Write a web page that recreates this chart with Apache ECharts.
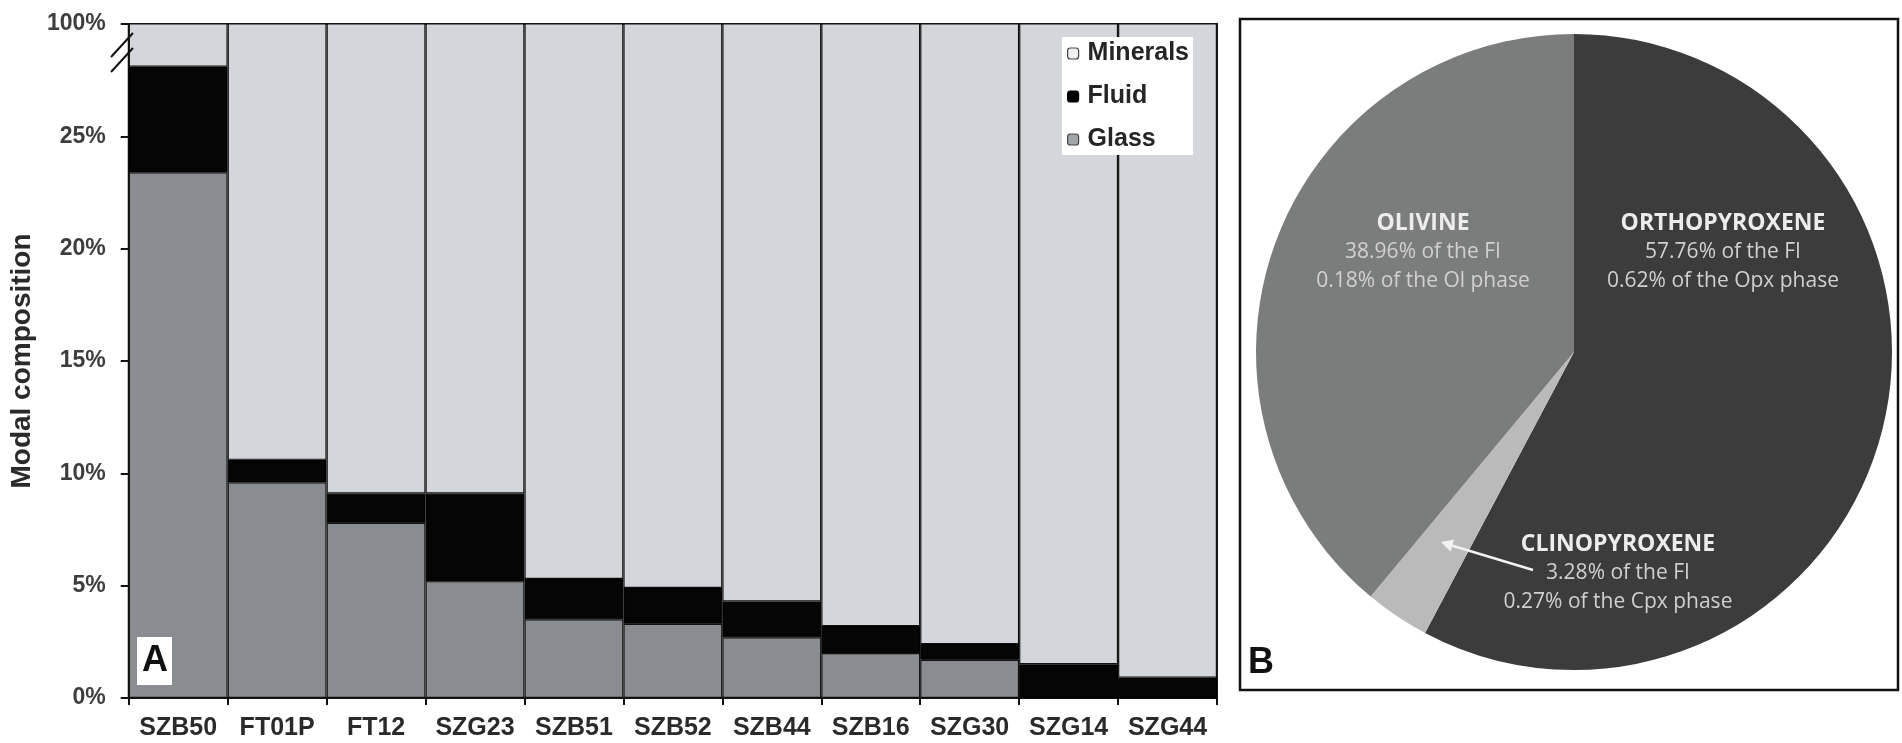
<!DOCTYPE html>
<html>
<head>
<meta charset="utf-8">
<script src="https://cdn.jsdelivr.net/npm/echarts@6/dist/echarts.min.js"></script>
<style>
html,body{margin:0;padding:0;background:#fff;}
#chart{width:1902px;height:743px;}
</style>
</head>
<body>
<div id="chart"></div>
<script>
// Panel A: modal composition of the inclusions in each sample (%)
const samples  = ['SZB50','FT01P','FT12','SZG23','SZB51','SZB52','SZB44','SZB16','SZG30','SZG14','SZG44'];
const glass    = [23.4, 9.6, 7.8, 5.2, 3.5, 3.3, 2.7, 2.0, 1.7, 0, 0];
const fluid    = [4.7, 1.0, 1.3, 3.9, 1.8, 1.6, 1.6, 1.2, 0.7, 1.5, 0.9];
const minerals = [71.9, 89.4, 90.9, 90.9, 94.7, 95.1, 95.7, 96.8, 97.6, 98.5, 99.1];
// The value axis is broken above 25%: its top tick stands for 100%
const yTickValues = [0, 5, 10, 15, 20, 25, 30];
const yTickLabels = ['0%', '5%', '10%', '15%', '20%', '25%', '100%'];

// Panel B: share of the fluid inclusions (FI) hosted by each phase
const phases     = ['ORTHOPYROXENE', 'CLINOPYROXENE', 'OLIVINE'];
const fiShare    = [57.76, 3.28, 38.96];
const phaseShare = [0.62, 0.27, 0.18];
const phaseAbbr  = ['Opx', 'Cpx', 'Ol'];

const FONT = '"Liberation Sans", Arial, sans-serif';
const PIE_FONT = '"Open Sans", sans-serif';
const colMinerals = '#d3d6db', colFluid = '#050505', colGlass = '#898d91';
const pieColors = ['#3c3c3c', '#bababa', '#7b7d7d'];

const pieCenter = [1574, 352];
const pieRadius = 318;
// label block offsets from the pie centre (middle line of each block)
const labelOffsets = [[149, -100], [44, 221], [-151, -100]];

const chart = echarts.init(document.getElementById('chart'), null, {renderer: 'canvas'});

const barBase = {
  type: 'bar', stack: 'total', barCategoryGap: 0, barGap: 0,
  silent: true, clip: true
};

chart.setOption({
  animation: false,
  backgroundColor: '#ffffff',
  grid: {
    left: 127, right: 685, top: 24, bottom: 45,
    show: true, borderColor: '#1a1a1a', borderWidth: 2, containLabel: false
  },
  legend: {
    data: [
      {name: 'Minerals', itemStyle: {color: '#eeeff1', borderColor: '#444', borderWidth: 1.2}},
      {name: 'Fluid',    itemStyle: {color: '#000',    borderColor: '#000', borderWidth: 1.2}},
      {name: 'Glass',    itemStyle: {color: '#a3a6a9', borderColor: '#444', borderWidth: 1.2}}
    ],
    orient: 'vertical', left: 1062, top: 37,
    backgroundColor: '#ffffff',
    padding: [4, 4, 3, 5],
    itemWidth: 11, itemHeight: 11, itemGap: 18,
    selectedMode: false,
    textStyle: {fontFamily: FONT, fontWeight: 'bold', fontSize: 25, lineHeight: 25,
                color: '#252525', padding: [0, 0, 0, 4]}
  },
  xAxis: {
    type: 'category', data: samples,
    axisLine: {lineStyle: {color: '#111', width: 2}},
    axisTick: {show: true, length: 7, alignWithLabel: false, lineStyle: {color: '#111', width: 2}},
    axisLabel: {fontFamily: FONT, fontWeight: 'bold', fontSize: 25, color: '#2a2a2a', margin: 18, interval: 0}
  },
  yAxis: {
    type: 'value', min: 0, max: 30, interval: 5,
    name: 'Modal composition', nameLocation: 'middle', nameGap: 80,
    nameTextStyle: {fontFamily: FONT, fontWeight: 'bold', fontSize: 28, color: '#2a2a2a'},
    axisLine: {show: true, lineStyle: {color: '#111', width: 2}},
    axisTick: {show: true, length: 8, lineStyle: {color: '#111', width: 2}},
    splitLine: {show: false},
    axisLabel: {
      fontFamily: FONT, fontWeight: 'bold', fontSize: 23, color: '#3d3d3d', margin: 23,
      formatter: v => yTickLabels[yTickValues.indexOf(v)]
    }
  },
  series: [
    Object.assign({}, barBase, {
      name: 'Glass', data: glass,
      itemStyle: {color: colGlass, borderColor: '#111', borderWidth: 1.2}
    }),
    Object.assign({}, barBase, {
      name: 'Fluid', data: fluid,
      itemStyle: {color: colFluid, borderColor: '#000', borderWidth: 1.2}
    }),
    Object.assign({}, barBase, {
      name: 'Minerals', data: minerals,
      itemStyle: {color: colMinerals, borderColor: '#111', borderWidth: 1.2}
    }),
    {
      type: 'pie', silent: true,
      center: pieCenter, radius: pieRadius,
      startAngle: 90, clockwise: true,
      itemStyle: {borderWidth: 0},
      data: phases.map((n, i) => ({name: n, value: fiShare[i], itemStyle: {color: pieColors[i]}})),
      label: {
        show: true, position: 'inside',
        formatter: p => '{t|' + p.name + '}\n{v|' + p.value + '% of the FI}\n{v|' +
          phaseShare[p.dataIndex] + '% of the ' + phaseAbbr[p.dataIndex] + ' phase}',
        rich: {
          t: {fontFamily: PIE_FONT, fontWeight: 'bold', fontSize: 23, color: '#ececec', lineHeight: 29, align: 'center'},
          v: {fontFamily: PIE_FONT, fontSize: 21, color: '#d0d0d0', lineHeight: 29, align: 'center'}
        }
      },
      labelLine: {show: false},
      labelLayout: p => ({
        x: pieCenter[0] + labelOffsets[p.dataIndex][0],
        y: pieCenter[1] + labelOffsets[p.dataIndex][1],
        align: 'center', verticalAlign: 'middle'
      })
    }
  ],
  graphic: [
    // frame of panel B
    {type: 'rect', shape: {x: 1240, y: 19, width: 658, height: 671},
     style: {fill: null, stroke: '#111', lineWidth: 2.5}, z: 0, silent: true},
    // axis break marks
    {type: 'line', shape: {x1: 111, y1: 57, x2: 133, y2: 33}, style: {stroke: '#111', lineWidth: 2}, z: 10},
    {type: 'line', shape: {x1: 111, y1: 72, x2: 133, y2: 48}, style: {stroke: '#111', lineWidth: 2}, z: 10},
    // panel letters
    {type: 'text', left: 137, top: 637, z: 10,
     style: {text: 'A', fontFamily: FONT, fontWeight: 'bold', fontSize: 36, fill: '#111',
             backgroundColor: '#ffffff', padding: [6, 4, 6, 5], lineHeight: 36}},
    {type: 'text', left: 1248, top: 645, z: 10,
     style: {text: 'B', fontFamily: FONT, fontWeight: 'bold', fontSize: 36, fill: '#111'}},
    // arrow pointing at the clinopyroxene slice
    {type: 'line', shape: {x1: 1533, y1: 570, x2: 1450, y2: 545},
     style: {stroke: '#f2f2f2', lineWidth: 2.5}, z: 10},
    {type: 'polygon', shape: {points: [[1441, 542], [1454, 539.5], [1450.5, 551.5]]},
     style: {fill: '#f2f2f2'}, z: 10}
  ]
});
</script>
</body>
</html>
